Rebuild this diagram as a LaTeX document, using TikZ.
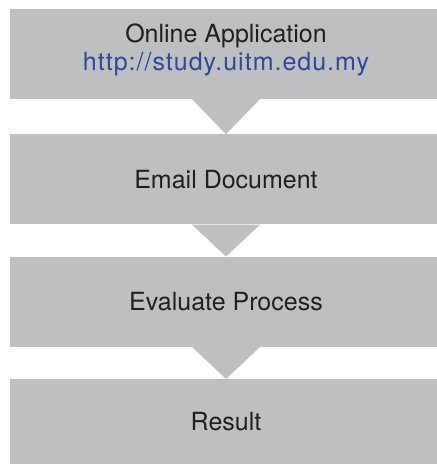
\documentclass[tikz,border=0pt]{standalone}
\usepackage{fontspec}
\setmainfont{TeX Gyre Heros}
\usepackage{xcolor}
\usepackage{tikz}
\usetikzlibrary{positioning,calc}

\definecolor{boxgray}{RGB}{190,191,193}
\definecolor{textdark}{RGB}{35,31,32}
\definecolor{urlblue}{RGB}{44,74,154}

\tikzset{
  stepbox/.style={fill=boxgray, text=textdark, inner sep=0pt,
    minimum width=432bp, minimum height=90bp, align=center,
    font=\fontsize{25bp}{28bp}\selectfont}
}

\begin{document}
\begin{tikzpicture}[x=1bp,y=1bp]
      \useasboundingbox (0,0) rectangle (437,-464);

      \node[stepbox] at (226,-54) (app)
        {Online Application\\\textcolor{urlblue}{\addfontfeature{LetterSpace=4}http://study.uitm.edu.my}\rule[-14.5bp]{0pt}{0pt}};
      \node[stepbox, below=35bp of app] (email) {Email Document};
      \node[stepbox, below=32bp of email] (eval) {Evaluate Process};
      \node[stepbox, below=32bp of eval, minimum height=85bp] (result) {Result};

      % arrow heads between the steps
      \foreach \a/\b in {app/email, email/eval, eval/result}
        \fill[boxgray] ([xshift=-34bp]\a.south) -- ([xshift=34bp]\a.south) -- (\b.north) -- cycle;
\end{tikzpicture}
\end{document}
